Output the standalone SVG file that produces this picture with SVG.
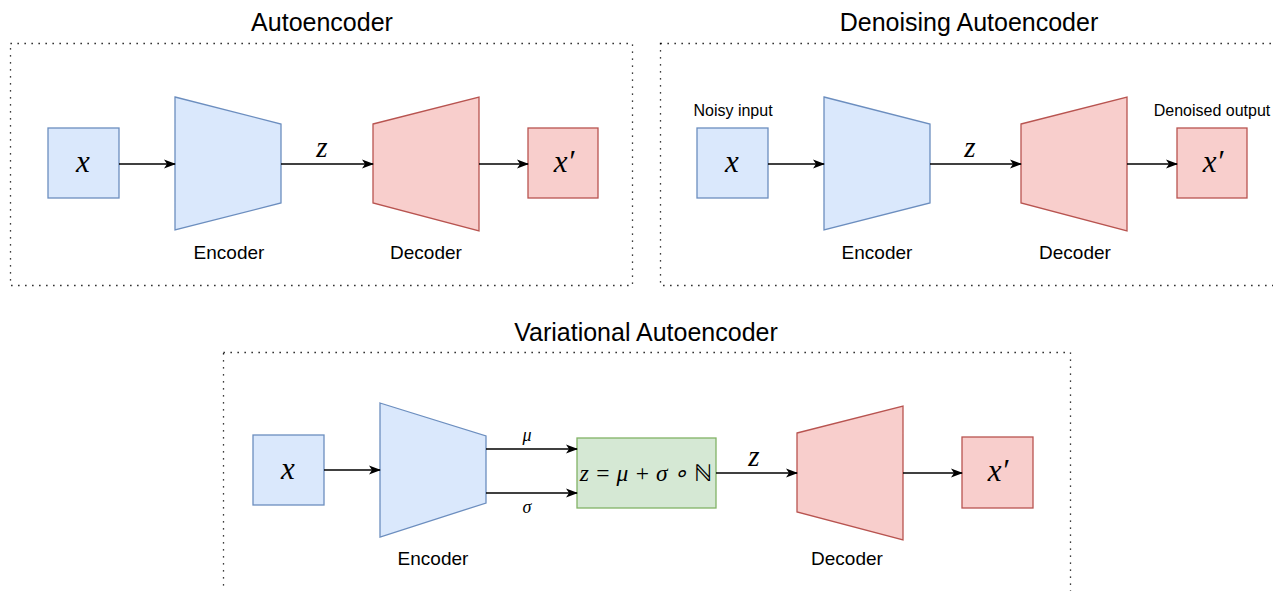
<svg xmlns="http://www.w3.org/2000/svg" width="1273" height="591" viewBox="0 0 1273 591">
  <style>
    .frame { fill: none; stroke: #000; stroke-width: 1.3; stroke-dasharray: 1.3 5.7; }
    .title { font-family: "Liberation Sans", Arial, sans-serif; font-size: 25px; fill: #000; text-anchor: middle; }
    .label { font-family: "Liberation Sans", Arial, sans-serif; font-size: 19px; fill: #000; text-anchor: middle; }
    .small { font-family: "Liberation Sans", Arial, sans-serif; font-size: 16px; fill: #000; text-anchor: middle; }
    .math { font-family: "Liberation Serif", "Times New Roman", serif; font-style: italic; fill: #000; text-anchor: middle; }
    .upright { font-style: normal; }
    .enc { fill: #dae8fc; stroke: #6c8ebf; stroke-width: 1.3; }
    .dec { fill: #f8cecc; stroke: #b85450; stroke-width: 1.3; }
    .sam { fill: #d5e8d4; stroke: #82b366; stroke-width: 1.3; }
    .edge { fill: none; stroke: #000; stroke-width: 1.3; marker-end: url(#arrow); }
  </style>
  <defs>
    <marker id="arrow" viewBox="0 0 12 12" refX="11" refY="6" markerWidth="12" markerHeight="12" markerUnits="userSpaceOnUse" orient="auto">
      <path d="M0,1.5 L12,6 L0,10.5 L3,6 z" fill="#000"/>
    </marker>
  </defs>

  <rect width="1273" height="591" fill="#fff"/>

  <!-- Plain autoencoder -->
  <g id="ae">
    <rect class="frame" x="10.5" y="43.5" width="622" height="242"/>
    <text class="title" x="322" y="31">Autoencoder</text>
    <g id="ae-x">
      <rect class="enc" x="48" y="128" width="71" height="70"/>
      <text class="math" x="83" y="172" font-size="31">x</text>
    </g>
    <g id="ae-encoder">
      <polygon class="enc" points="175,97 281,124 281,203 175,230"/>
      <text class="label" x="229" y="259">Encoder</text>
    </g>
    <g id="ae-decoder">
      <polygon class="dec" points="373,124 479,97 479,231 373,203"/>
      <text class="label" x="426" y="259">Decoder</text>
    </g>
    <g id="ae-xhat">
      <rect class="dec" x="528" y="128" width="70" height="70"/>
      <text class="math" x="564" y="172" font-size="31">x′</text>
    </g>
  </g>

  <!-- Denoising autoencoder -->
  <g id="dae">
    <rect class="frame" x="660.5" y="43.5" width="630" height="242"/>
    <text class="title" x="969" y="31">Denoising Autoencoder</text>
    <g id="dae-x">
      <text class="small" x="733" y="116">Noisy input</text>
      <rect class="enc" x="697" y="128" width="71" height="70"/>
      <text class="math" x="732" y="172" font-size="31">x</text>
    </g>
    <g id="dae-encoder">
      <polygon class="enc" points="824,97 930,124 930,203 824,230"/>
      <text class="label" x="877" y="259">Encoder</text>
    </g>
    <g id="dae-decoder">
      <polygon class="dec" points="1021,124 1127,97 1127,231 1021,203"/>
      <text class="label" x="1075" y="259">Decoder</text>
    </g>
    <g id="dae-xhat">
      <text class="small" x="1212" y="116">Denoised output</text>
      <rect class="dec" x="1177" y="128" width="70" height="70"/>
      <text class="math" x="1213" y="172" font-size="31">x′</text>
    </g>
  </g>

  <!-- Variational autoencoder -->
  <g id="vae">
    <rect class="frame" x="223.5" y="352.5" width="847" height="260"/>
    <text class="title" x="646" y="341">Variational Autoencoder</text>
    <g id="vae-x">
      <rect class="enc" x="253" y="435" width="71" height="70"/>
      <text class="math" x="288" y="479" font-size="31">x</text>
    </g>
    <g id="vae-encoder">
      <polygon class="enc" points="380,403 486,436 486,503 380,537"/>
      <text class="label" x="433" y="565">Encoder</text>
    </g>
    <g id="vae-sampler">
      <rect class="sam" x="577" y="438" width="139" height="70"/>
      <text class="math" x="646" y="481" font-size="23.5">z = μ + σ ∘ <tspan class="upright">ℕ</tspan></text>
    </g>
    <g id="vae-decoder">
      <polygon class="dec" points="797,433 903,406 903,540 797,512"/>
      <text class="label" x="847" y="565">Decoder</text>
    </g>
    <g id="vae-xhat">
      <rect class="dec" x="962" y="437" width="71" height="71"/>
      <text class="math" x="998" y="481" font-size="31">x′</text>
    </g>
  </g>

  <!-- Connectors -->
  <g id="connectors">
    <path class="edge" d="M119,164 H175"/>
    <path class="edge" d="M281,164 H373"/>
    <text class="math" x="322" y="157" font-size="29">z</text>
    <path class="edge" d="M479,164 H528"/>

    <path class="edge" d="M768,164 H824"/>
    <path class="edge" d="M930,164 H1021"/>
    <text class="math" x="970" y="157" font-size="29">z</text>
    <path class="edge" d="M1127,164 H1177"/>

    <path class="edge" d="M324,470 H380"/>
    <path class="edge" d="M486,449 H577"/>
    <text class="math" x="527" y="441" font-size="18">μ</text>
    <path class="edge" d="M486,493 H577"/>
    <text class="math" x="527" y="513" font-size="18">σ</text>
    <path class="edge" d="M716,473 H797"/>
    <text class="math" x="754" y="466" font-size="29">z</text>
    <path class="edge" d="M903,473 H962"/>
  </g>
</svg>
